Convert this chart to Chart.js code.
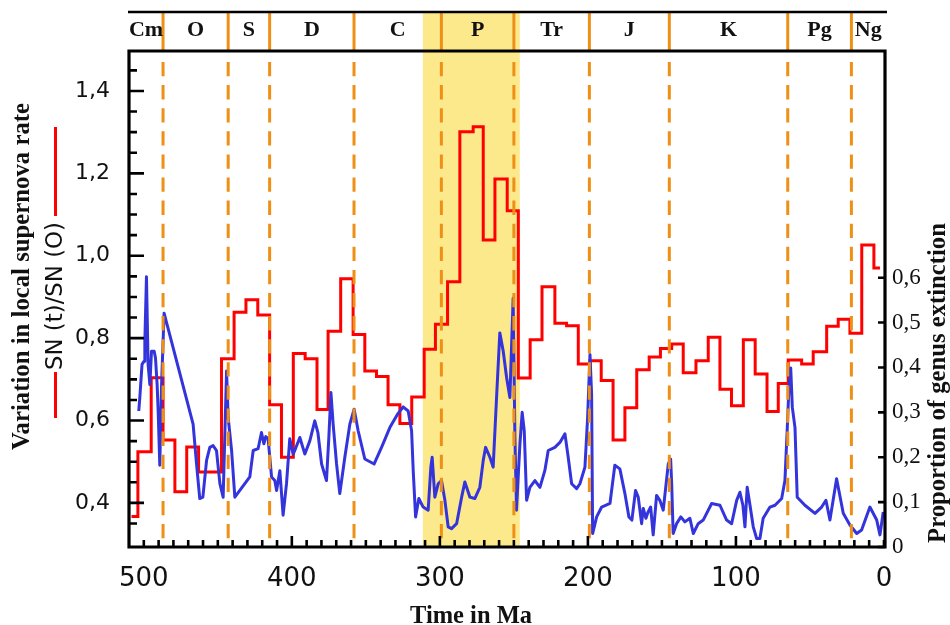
<!DOCTYPE html>
<html>
<head>
<meta charset="utf-8">
<script src="https://cdn.jsdelivr.net/npm/chart.js@4.4.1/dist/chart.umd.min.js"></script>
<style>
html,body{margin:0;padding:0;background:#fff;}
canvas{display:block;}
</style>
</head>
<body>
<canvas id="c" width="950" height="625"></canvas>
<script>
// ---------------- DATA ----------------
// Local supernova rate SN(t)/SN(0): step function, edges in Ma and level of each step
const redEdges = [508.3, 504, 495, 487, 479, 471, 463, 447.5, 439, 431, 423, 415, 407, 399, 391, 383, 375.5, 367, 358.6, 350.7, 342.8, 335, 327, 319, 310.6, 303, 294.8, 286.5, 277.5, 270.7, 262.8, 254.5, 247, 239, 231, 222.3, 214.4, 206.5, 198.6, 191, 183, 175, 167, 158.6, 151, 143.4, 135.6, 127, 118.7, 110.8, 103, 95, 87, 79, 71.4, 64.7, 55.6, 47.8, 38.7, 30.9, 23, 15, 6.8, 2.7];
const redLevels = [0.367, 0.524, 0.704, 0.553, 0.427, 0.536, 0.475, 0.75, 0.863, 0.893, 0.856, 0.638, 0.511, 0.763, 0.75, 0.627, 0.817, 0.944, 0.809, 0.72, 0.707, 0.638, 0.593, 0.657, 0.773, 0.834, 0.937, 1.301, 1.313, 1.038, 1.186, 1.109, 0.703, 0.796, 0.925, 0.836, 0.83, 0.737, 0.745, 0.697, 0.553, 0.631, 0.723, 0.754, 0.775, 0.786, 0.716, 0.745, 0.802, 0.676, 0.636, 0.796, 0.713, 0.622, 0.69, 0.747, 0.737, 0.767, 0.829, 0.846, 0.812, 1.026, 0.97];

// Proportion of genus extinction
const blueMa = [503.4, 502.7, 501.2, 499.8, 499.3, 498.2, 497.1, 495.9, 494.8, 493.0,
 492.1, 491.0, 490.3, 489.2, 488.0, 486.3, 466.7, 464.4, 462.2, 460.1,
 457.6, 455.4, 453.2, 450.9, 448.6, 446.4, 444.1, 443.0, 440.7, 438.5,
 428.4, 426.1, 422.8, 420.5, 418.9, 417.6, 416.0, 413.7, 411.5, 410.3,
 408.1, 405.9, 403.6, 401.4, 399.1, 397.3, 394.6, 391.2, 387.8, 384.5,
 382.4, 379.9, 376.6, 375.0, 373.6, 372.1, 369.8, 367.6, 364.2, 360.8,
 357.9, 355.2, 350.7, 344.4, 339.4, 333.8, 328.6, 324.8, 321.4, 319.1,
 318.0, 316.4, 314.2, 311.3, 307.9, 306.1, 305.2, 303.4, 301.1, 298.9,
 296.6, 294.4, 292.1, 288.7, 285.3, 283.1, 279.7, 276.4, 273.0, 270.7,
 269.1, 266.2, 264.0, 261.7, 259.5, 257.2, 254.9, 252.7, 250.5, 249.3,
 248.2, 247.1, 245.9, 244.4, 243.0, 241.4, 239.2, 235.8, 232.4, 229.1,
 226.8, 222.3, 218.9, 215.5, 213.3, 211.0, 207.6, 205.4, 202.0, 200.2,
 198.6, 197.5, 196.8, 194.1, 190.7, 185.1, 181.8, 178.4, 175.0, 172.3,
 170.3, 167.8, 166.0, 163.7, 162.6, 160.8, 159.5, 157.6, 155.9, 153.6,
 151.4, 149.1, 145.7, 144.1, 143.4, 142.4, 140.1, 137.2, 134.5, 131.1,
 128.8, 125.5, 122.1, 116.4, 110.8, 106.3, 102.9, 99.5, 97.3, 95.3,
 93.9, 92.4, 90.5, 88.3, 86.0, 83.8, 81.6, 77.0, 73.6, 69.1,
 66.9, 65.3, 64.2, 63.0, 61.9, 60.1, 58.6, 53.4, 46.6, 42.1,
 39.2, 36.5, 32.0, 27.5, 23.0, 18.4, 15.1, 9.5, 4.9, 2.7,
 0.5];
const blueVal = [0.303, 0.333, 0.407, 0.414, 0.458, 0.602, 0.407, 0.362, 0.436, 0.436,
 0.421, 0.362, 0.303, 0.182, 0.362, 0.521, 0.274, 0.186, 0.108, 0.111,
 0.193, 0.222, 0.226, 0.215, 0.141, 0.111, 0.392, 0.288, 0.215, 0.111,
 0.156, 0.215, 0.219, 0.255, 0.230, 0.246, 0.241, 0.156, 0.148, 0.126,
 0.170, 0.071, 0.141, 0.241, 0.207, 0.221, 0.244, 0.207, 0.237, 0.281,
 0.255, 0.185, 0.148, 0.244, 0.344, 0.274, 0.185, 0.119, 0.200, 0.274,
 0.307, 0.259, 0.196, 0.185, 0.222, 0.266, 0.296, 0.312, 0.303, 0.259,
 0.170, 0.067, 0.108, 0.089, 0.082, 0.178, 0.200, 0.111, 0.141, 0.148,
 0.104, 0.045, 0.041, 0.052, 0.111, 0.145, 0.111, 0.108, 0.133, 0.193,
 0.222, 0.200, 0.178, 0.333, 0.477, 0.436, 0.377, 0.333, 0.554, 0.244,
 0.082, 0.156, 0.230, 0.300, 0.259, 0.104, 0.133, 0.148, 0.133, 0.170,
 0.215, 0.222, 0.233, 0.252, 0.200, 0.141, 0.130, 0.141, 0.178, 0.288,
 0.429, 0.340, 0.030, 0.067, 0.089, 0.097, 0.182, 0.174, 0.119, 0.067,
 0.060, 0.126, 0.111, 0.052, 0.086, 0.064, 0.077, 0.089, 0.027, 0.115,
 0.104, 0.082, 0.185, 0.196, 0.141, 0.030, 0.052, 0.067, 0.056, 0.064,
 0.030, 0.052, 0.060, 0.097, 0.093, 0.060, 0.052, 0.104, 0.122, 0.093,
 0.045, 0.133, 0.093, 0.045, 0.019, 0.019, 0.064, 0.089, 0.093, 0.108,
 0.148, 0.266, 0.355, 0.399, 0.311, 0.266, 0.111, 0.093, 0.075, 0.089,
 0.104, 0.060, 0.152, 0.075, 0.049, 0.030, 0.038, 0.089, 0.060, 0.027,
 0.078];

// Geological periods
const periodNames = ['Cm', 'O', 'S', 'D', 'C', 'P', 'Tr', 'J', 'K', 'Pg', 'Ng'];
const periodBoundaries = [487, 443, 415, 358, 299, 250, 199, 145, 65, 22];
const permianBand = [311.5, 246];

// Tick labels
const xTickValues = [500, 400, 300, 200, 100, 0];
const leftTickValues = [0.4, 0.6, 0.8, 1.0, 1.2, 1.4];
const rightTickValues = [0, 0.1, 0.2, 0.3, 0.4, 0.5, 0.6];

// axis ranges
const X_MIN = -0.7, X_MAX = 510;
const YL_MIN = 0.293, YL_MAX = 1.497;
const YR_MIN = 0, YR_MAX = 1.105;

// ---------------- build datasets ----------------
const redPoints = [];
for (let i = 0; i < redLevels.length; i++) {
  redPoints.push({x: redEdges[i], y: redLevels[i]});
  redPoints.push({x: redEdges[i + 1], y: redLevels[i]});
}
const bluePoints = blueMa.map((m, i) => ({x: m, y: blueVal[i]}));

const ORANGE = '#EE8F16';
const comma = v => (Math.abs(v) < 1e-9 ? '0' : v.toFixed(1).replace('.', ','));

function fitText(ctx, text, family, weight, targetW, cx, cy, rot, color, baseline) {
  ctx.save();
  ctx.font = weight + ' 20px ' + family;
  const w = ctx.measureText(text).width;
  const size = 20 * targetW / w;
  ctx.font = weight + ' ' + size.toFixed(2) + 'px ' + family;
  ctx.translate(cx, cy);
  ctx.rotate(rot);
  ctx.textAlign = 'center';
  ctx.textBaseline = baseline || 'middle';
  ctx.fillStyle = color || '#111';
  ctx.fillText(text, 0, 0);
  ctx.restore();
}

const decorPlugin = {
  id: 'decor',
  beforeDatasetsDraw(chart) {
    const {ctx, chartArea: a, scales: {x}} = chart;
    const p1 = x.getPixelForValue(permianBand[0]);
    const p2 = x.getPixelForValue(permianBand[1]);
    ctx.save();
    ctx.fillStyle = '#FCE98C';
    ctx.fillRect(Math.min(p1, p2), 12, Math.abs(p2 - p1), a.bottom - 12);
    ctx.restore();
  },
  afterDatasetsDraw(chart) {
    const {ctx, chartArea: a, scales: {x, y, y1}} = chart;
    ctx.save();
    // dashed period boundaries inside the plot
    ctx.strokeStyle = ORANGE;
    ctx.lineWidth = 3;
    ctx.setLineDash([14.3, 8.8]);
    periodBoundaries.forEach(b => {
      const px = x.getPixelForValue(b);
      ctx.beginPath();
      ctx.moveTo(px, 62);
      ctx.lineTo(px, a.bottom);
      ctx.stroke();
    });
    ctx.setLineDash([]);
    // solid separators in the period band
    periodBoundaries.forEach(b => {
      const px = x.getPixelForValue(b);
      ctx.beginPath();
      ctx.moveTo(px, 13);
      ctx.lineTo(px, a.top);
      ctx.stroke();
    });
    // period band top line
    ctx.strokeStyle = '#000';
    ctx.lineWidth = 2.5;
    ctx.beginPath();
    ctx.moveTo(a.left - 1, 12);
    ctx.lineTo(a.right + 2, 12);
    ctx.stroke();
    // period labels
    const edges = [X_MAX].concat(periodBoundaries).concat([X_MIN]);
    ctx.fillStyle = '#111';
    ctx.font = 'bold 22px "Liberation Serif", "Times New Roman", serif';
    ctx.textAlign = 'center';
    ctx.textBaseline = 'alphabetic';
    periodNames.forEach((n, i) => {
      const c = (x.getPixelForValue(edges[i]) + x.getPixelForValue(edges[i + 1])) / 2;
      ctx.fillText(n, c, 36);
    });
    // frame
    ctx.strokeStyle = '#000';
    ctx.lineWidth = 3.2;
    ctx.beginPath();
    ctx.moveTo(a.left, a.top); ctx.lineTo(a.right, a.top);
    ctx.moveTo(a.left, a.top - 1.6); ctx.lineTo(a.left, a.bottom + 1.6);
    ctx.moveTo(a.right, a.top - 1.6); ctx.lineTo(a.right, a.bottom + 1.6);
    ctx.moveTo(a.left, a.bottom); ctx.lineTo(a.right + 1.6, a.bottom);
    ctx.stroke();
    // ticks (drawn inward)
    ctx.lineWidth = 2.6;
    ctx.beginPath();
    for (let v = 0; v <= 500; v += 10) {
      const px = x.getPixelForValue(v);
      const len = (v % 100 === 0 && v > 0 && v < 500) ? 11 : 7;
      ctx.moveTo(px, a.bottom); ctx.lineTo(px, a.bottom - len);
    }
    for (let k = 7; k <= 29; k++) {
      const v = k * 0.05;
      const py = y.getPixelForValue(v);
      const len = (k % 4 === 0) ? 15 : 8;
      ctx.moveTo(a.left, py); ctx.lineTo(a.left + len, py);
    }
    rightTickValues.forEach(v => {
      const py = y1.getPixelForValue(v);
      ctx.moveTo(a.right, py); ctx.lineTo(a.right - 7, py);
    });
    ctx.stroke();
    ctx.restore();
  },
  afterDraw(chart) {
    const {ctx} = chart;
    const serif = '"Liberation Serif", "Times New Roman", serif';
    // left title, line 1
    fitText(ctx, 'Variation in local supernova rate', serif, 'bold', 347, 23, 276.5, -Math.PI / 2, '#111');
    // left title, line 2 with red key lines
    fitText(ctx, 'SN (t)/SN (O)', '"DejaVu Sans", sans-serif', 'normal', 148, 56, 296, -Math.PI / 2, '#111');
    ctx.save();
    ctx.strokeStyle = '#F00';
    ctx.lineWidth = 3;
    ctx.beginPath();
    ctx.moveTo(55.5, 372); ctx.lineTo(55.5, 418);
    ctx.moveTo(55.5, 127); ctx.lineTo(55.5, 216);
    ctx.stroke();
    ctx.restore();
    // right title
    fitText(ctx, 'Proportion of genus extinction', serif, 'bold', 320, 939, 383, -Math.PI / 2, '#111');
    // bottom title
    fitText(ctx, 'Time in Ma', serif, 'bold', 122, 471, 623, 0, '#111', 'alphabetic');
  }
};

new Chart(document.getElementById('c'), {
  type: 'line',
  data: {
    datasets: [
      {
        label: 'Genus extinction',
        data: bluePoints,
        yAxisID: 'y1',
        borderColor: '#3434DC',
        borderWidth: 3,
        pointRadius: 0,
        tension: 0,
        borderJoinStyle: 'round',
        fill: false,
        order: 0
      },
      {
        label: 'SN (t)/SN (0)',
        data: redPoints,
        yAxisID: 'y',
        borderColor: '#FF0000',
        borderWidth: 3,
        pointRadius: 0,
        tension: 0,
        fill: false,
        order: 1
      }
    ]
  },
  options: {
    responsive: false,
    animation: false,
    devicePixelRatio: 1,
    layout: {padding: {top: 51, left: 0, right: 0, bottom: 0}},
    plugins: {legend: {display: false}, tooltip: {enabled: false}},
    scales: {
      x: {
        type: 'linear',
        reverse: true,
        min: X_MIN,
        max: X_MAX,
        grid: {display: false, drawTicks: false},
        border: {display: false},
        afterBuildTicks: s => { s.ticks = xTickValues.map(v => ({value: v})); },
        afterFit: s => { s.height = 78; },
        ticks: {
          font: {family: '"DejaVu Sans", sans-serif', size: 26},
          color: '#111',
          padding: 17,
          maxRotation: 0,
          autoSkip: false,
          callback: v => String(v)
        }
      },
      y: {
        type: 'linear',
        position: 'left',
        min: YL_MIN,
        max: YL_MAX,
        grid: {display: false, drawTicks: false},
        border: {display: false},
        afterBuildTicks: s => { s.ticks = leftTickValues.map(v => ({value: v})); },
        afterFit: s => { s.width = 129; },
        ticks: {
          font: {family: '"DejaVu Sans", sans-serif', size: 22},
          color: '#111',
          padding: 19,
          autoSkip: false,
          callback: v => comma(v)
        }
      },
      y1: {
        type: 'linear',
        position: 'right',
        min: YR_MIN,
        max: YR_MAX,
        grid: {display: false, drawTicks: false},
        border: {display: false},
        afterBuildTicks: s => { s.ticks = rightTickValues.map(v => ({value: v})); },
        afterFit: s => { s.width = 65; },
        ticks: {
          font: {family: '"Liberation Serif", "Times New Roman", serif', size: 23},
          color: '#111',
          padding: 7,
          autoSkip: false,
          callback: v => comma(v)
        }
      }
    }
  },
  plugins: [decorPlugin]
});
</script>
</body>
</html>
